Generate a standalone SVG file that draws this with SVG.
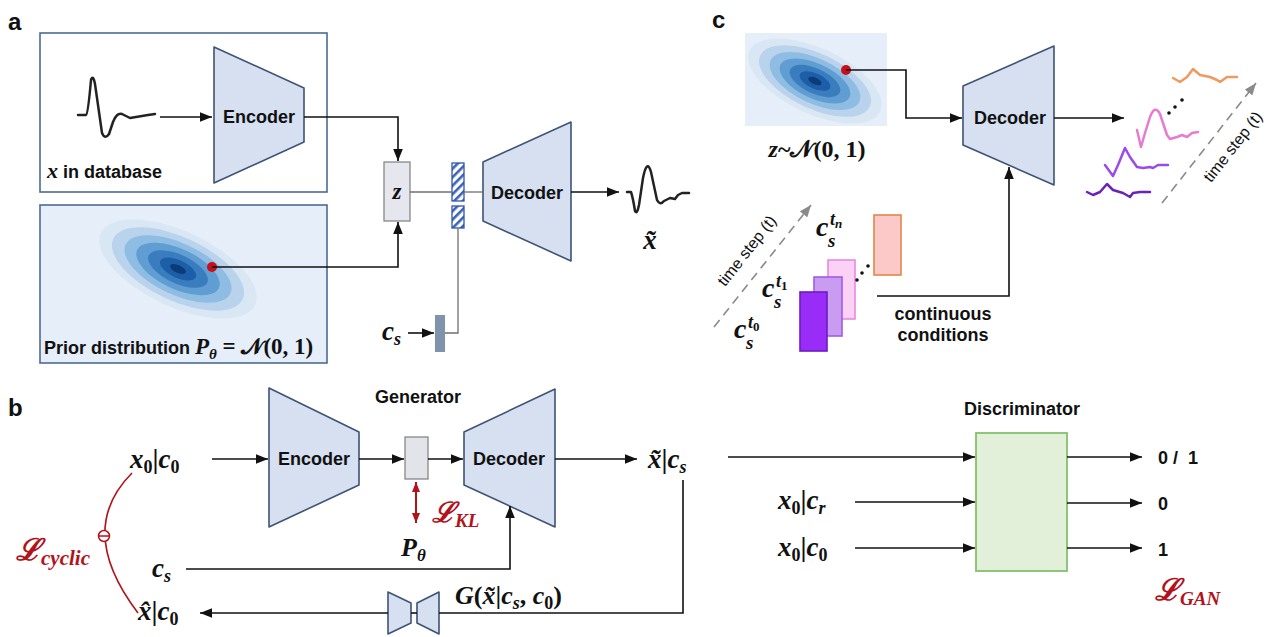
<svg xmlns="http://www.w3.org/2000/svg" width="1270" height="637" viewBox="0 0 1270 637">
<defs>
<style>
.lbl{font-family:"Liberation Sans",Arial,sans-serif;font-weight:bold;fill:#111}
.ts{font-family:"Liberation Sans",Arial,sans-serif;font-size:16px;fill:#111}
.m{font-family:"Liberation Serif","DejaVu Serif",serif;font-weight:bold;font-style:italic;fill:#111}
.up{font-style:normal}
.red{fill:#b3121b}
.net{fill:#d6e0f1;stroke:#3f5375;stroke-width:1.6;stroke-linejoin:round}
.ln{fill:none;stroke:#111;stroke-width:1.6}
.thin{fill:none;stroke:#6f6f6f;stroke-width:1.3}
.wave{fill:none;stroke-width:2.5;stroke-linejoin:round;stroke-linecap:round}
.dash{fill:none;stroke:#8a8a8a;stroke-width:1.6;stroke-dasharray:9 6}
</style>
<marker id="ah" viewBox="0 0 10 8" refX="10" refY="4" markerWidth="12" markerHeight="10" markerUnits="userSpaceOnUse" orient="auto"><path d="M0,0L10,4L0,8z" fill="#111"/></marker>
<marker id="ahg" viewBox="0 0 10 8" refX="10" refY="4" markerWidth="12" markerHeight="10" markerUnits="userSpaceOnUse" orient="auto"><path d="M0,0L10,4L0,8z" fill="#8a8a8a"/></marker>
<marker id="ahr" viewBox="0 0 10 8" refX="10" refY="4" markerWidth="10" markerHeight="8" markerUnits="userSpaceOnUse" orient="auto-start-reverse"><path d="M0,0L10,4L0,8z" fill="#b3121b"/></marker>
<pattern id="hatch" width="6" height="6" patternUnits="userSpaceOnUse" patternTransform="rotate(45)"><rect width="6" height="6" fill="#fff"/><rect width="2.6" height="6" fill="#3d63b8"/></pattern>
<g id="gs">
<ellipse rx="100" ry="41" fill="#d9e7f5"/>
<ellipse rx="84" ry="34.5" fill="#b9d3ec"/>
<ellipse rx="68" ry="28" fill="#8ebce2"/>
<ellipse rx="53" ry="21.8" fill="#5f9dd2"/>
<ellipse rx="38" ry="15.6" fill="#3a7dbf"/>
<ellipse rx="23" ry="9.5" fill="#1c5ea8"/>
<ellipse rx="10" ry="4.2" fill="#0c3c78"/>
</g>
</defs>

<!-- ========== Panel a ========== -->
<g id="panel-a">
<text class="lbl" x="8" y="30" font-size="24">a</text>
<g id="a-data-box">
<rect x="40" y="33" width="287" height="159" fill="#fff" stroke="#4c6b93" stroke-width="1.6"/>
<path class="wave" stroke="#222" d="M78,115 L86,115 Q88,114 91,80 Q93,74 95,84 L102,133 Q105,140 109,134 L113,122 Q117,112 122,114 L130,118 L136,117 L142,116 L148,115 L155,114"/>
<text x="47" y="178"><tspan class="m" font-size="22">x</tspan><tspan class="lbl" font-size="18"> in database</tspan></text>
</g>
<g id="a-encoder">
<path class="net" d="M214,47 L304,88 L304,142 L214,183 Z"/>
<text class="lbl" x="259" y="123" font-size="18" text-anchor="middle">Encoder</text>
</g>
<g id="a-prior-box">
<rect x="40" y="205" width="287" height="158" fill="#e5eef9" stroke="#4c6b93" stroke-width="1.6"/>
<use href="#gs" transform="translate(178,269) rotate(25) scale(0.85,0.92)"/>
<circle cx="212" cy="267" r="5" fill="#c8101a"/>
<text x="44" y="354"><tspan class="lbl" font-size="18">Prior distribution </tspan><tspan class="m" font-size="23">P</tspan><tspan class="m" font-size="15" dy="5">θ</tspan><tspan class="m up" font-size="23" dy="-5"> = 𝒩(0, 1)</tspan></text>
</g>
<g id="a-z">
<rect x="384" y="162" width="26" height="59" fill="#e6e7ee" stroke="#888" stroke-width="1.3"/>
<text class="m" x="397" y="199" font-size="23" text-anchor="middle">z</text>
</g>
<g id="a-hatch">
<rect x="452" y="163" width="12" height="38" fill="url(#hatch)" stroke="#2f55aa" stroke-width="1.3"/>
<rect x="452" y="206" width="12" height="22" fill="url(#hatch)" stroke="#2f55aa" stroke-width="1.3"/>
</g>
<g id="a-cs">
<rect x="435" y="315" width="10" height="37" fill="#7f93ad"/>
<text class="m" x="382" y="340" font-size="27">c<tspan font-size="18" dy="5">s</tspan></text>
</g>
<g id="a-decoder">
<path class="net" d="M483,162 L571,122 L571,261 L483,221 Z"/>
<text class="lbl" x="527" y="199" font-size="18" text-anchor="middle">Decoder</text>
</g>
<g id="a-output">
<path class="wave" stroke="#222" d="M627,192 L631,192 Q633,198 635,211 Q637,215 639,205 L643,178 Q647,158 651,172 L657,200 Q660,206 664,201 L670,198 L675,199 L678,195 L682,193 L689,193"/>
<text class="m" x="650" y="249" font-size="27" text-anchor="middle">x̃</text>
</g>
<g id="a-connectors">
<line class="ln" x1="160" y1="117" x2="212" y2="117" marker-end="url(#ah)"/>
<polyline class="ln" points="304,117 398,117 398,161" marker-end="url(#ah)"/>
<polyline class="ln" points="212,267 398,267 398,222" marker-end="url(#ah)"/>
<line class="thin" x1="410" y1="192" x2="452" y2="192"/>
<line class="thin" x1="464" y1="192" x2="483" y2="192"/>
<polyline class="thin" points="458,228 458,333 445,333"/>
<line class="ln" x1="408" y1="333" x2="434" y2="333" marker-end="url(#ah)"/>
<line class="ln" x1="571" y1="192" x2="619" y2="192" marker-end="url(#ah)"/>
</g>
</g>

<!-- ========== Panel c ========== -->
<g id="panel-c">
<text class="lbl" x="712" y="28" font-size="24">c</text>
<g id="c-latent">
<rect x="745" y="33" width="142" height="93" fill="#e5eef9"/>
<use href="#gs" transform="translate(815,81) rotate(25) scale(0.72,0.8)"/>
<circle cx="846" cy="70" r="5" fill="#c8101a"/>
<text class="m" x="817" y="157" font-size="24" text-anchor="middle">z<tspan class="up">~𝒩(0, 1)</tspan></text>
</g>
<g id="c-decoder">
<path class="net" d="M963,86 L1054,46 L1054,185 L963,145 Z"/>
<text class="lbl" x="1010" y="124" font-size="18" text-anchor="middle">Decoder</text>
</g>
<g id="c-conditions">
<rect x="874" y="215" width="27" height="60" fill="#fcc9c9" stroke="#e2874c" stroke-width="1.6"/>
<rect x="828" y="260" width="27" height="59" fill="#fbd2f5" stroke="#e48be0" stroke-width="1.6"/>
<rect x="814" y="277" width="28" height="59" fill="#c99cf2" stroke="#a25ce0" stroke-width="1.6"/>
<rect x="800" y="292" width="27" height="59" fill="#9a2cf8" stroke="#6c1cc4" stroke-width="1.6"/>
<circle cx="857" cy="280" r="1.8" fill="#111"/>
<circle cx="862" cy="273" r="1.8" fill="#111"/>
<circle cx="868" cy="266" r="1.8" fill="#111"/>
<text class="m" x="816" y="236" font-size="28">c</text><text class="m" x="828" y="247" font-size="19">s</text><text class="m" x="830" y="225" font-size="18">t<tspan font-size="13" dy="3">n</tspan></text>
<text class="m" x="762" y="297" font-size="28">c</text><text class="m" x="774" y="308" font-size="19">s</text><text class="m" x="776" y="287" font-size="18">t<tspan class="up" font-size="13" dy="3">1</tspan></text>
<text class="m" x="734" y="338" font-size="28">c</text><text class="m" x="746" y="349" font-size="19">s</text><text class="m" x="748" y="328" font-size="18">t<tspan class="up" font-size="13" dy="3">0</tspan></text>
<text class="lbl" x="943" y="320" font-size="18" text-anchor="middle">continuous</text>
<text class="lbl" x="943" y="341" font-size="18" text-anchor="middle">conditions</text>
<line class="dash" x1="714" y1="327" x2="811" y2="205" marker-end="url(#ahg)"/>
<text class="ts" transform="translate(751,254) rotate(-52)" text-anchor="middle">time step (t)</text>
</g>
<g id="c-outputs">
<path class="wave" stroke="#ee9a60" d="M1173,78 L1180,82 L1187,77 L1193,69 L1200,75 L1210,77 L1217,80 L1220,82 L1227,77 L1237,77"/>
<path class="wave" stroke="#e77bd2" d="M1137,130 L1141,147 L1145,133 L1150,117 Q1155,104 1160,114 L1167,135 L1170,139 L1177,137 L1182,135 L1187,137 L1192,133 L1198,132"/>
<path class="wave" stroke="#9a4ae8" d="M1105,165 L1113,176 L1118,165 L1125,148 L1130,157 L1137,167 L1143,168 L1150,167 L1153,168 L1158,165 L1168,165"/>
<path class="wave" stroke="#6a22b8" d="M1087,192 L1093,195 L1100,192 L1107,184 L1113,190 L1123,193 L1130,197 L1133,193 L1140,192 L1150,192"/>
<circle cx="1169" cy="113" r="1.8" fill="#111"/>
<circle cx="1175" cy="107" r="1.8" fill="#111"/>
<circle cx="1182" cy="100" r="1.8" fill="#111"/>
<line class="dash" x1="1162" y1="203" x2="1256" y2="83" marker-end="url(#ahg)"/>
<text class="ts" transform="translate(1237,150) rotate(-52)" text-anchor="middle">time step (t)</text>
</g>
<g id="c-connectors">
<polyline class="ln" points="846,70 906,70 906,118 962,118" marker-end="url(#ah)"/>
<polyline class="ln" points="877,296 1009,296 1009,167" marker-end="url(#ah)"/>
<line class="ln" x1="1054" y1="118" x2="1124" y2="118" marker-end="url(#ah)"/>
</g>
</g>

<!-- ========== Panel b ========== -->
<g id="panel-b">
<text class="lbl" x="8" y="416" font-size="24">b</text>
<text class="lbl" x="418" y="403" font-size="18" text-anchor="middle">Generator</text>
<g id="b-x0c0"><text class="m" x="130" y="468" font-size="27">x<tspan class="up" font-size="18" dy="5">0</tspan><tspan class="up" dy="-5">|</tspan>c<tspan class="up" font-size="18" dy="5">0</tspan></text></g>
<g id="b-encoder">
<path class="net" d="M269,388 L359,432 L359,485 L269,527 Z"/>
<text class="lbl" x="314" y="465" font-size="18" text-anchor="middle">Encoder</text>
</g>
<g id="b-latent"><rect x="405" y="437" width="23" height="42" fill="#e3e4ea" stroke="#888" stroke-width="1.3"/></g>
<g id="b-decoder">
<path class="net" d="M464,432 L555,389 L555,527 L464,485 Z"/>
<text class="lbl" x="509" y="465" font-size="18" text-anchor="middle">Decoder</text>
</g>
<g id="b-kl">
<line x1="416" y1="482" x2="416" y2="523" stroke="#b3121b" stroke-width="2" marker-start="url(#ahr)" marker-end="url(#ahr)"/>
<text class="m red" x="432" y="522" font-size="28">ℒ<tspan font-size="19" dy="5">KL</tspan></text>
</g>
<text class="m" x="401" y="556" font-size="26">P<tspan font-size="17" dy="5">θ</tspan></text>
<text class="m" x="152" y="577" font-size="27">c<tspan font-size="18" dy="5">s</tspan></text>
<g id="b-xtilde"><text class="m" x="648" y="468" font-size="27">x̃<tspan class="up">|</tspan>c<tspan font-size="18" dy="5">s</tspan></text></g>
<g id="b-xhat"><text class="m" x="138" y="620" font-size="27">x̂<tspan class="up">|</tspan>c<tspan class="up" font-size="18" dy="5">0</tspan></text></g>
<g id="b-G">
<path class="net" d="M388,592 L411,603 L411,623 L388,634 Z"/>
<path class="net" d="M417,603 L439,592 L439,634 L417,623 Z"/>
<text class="m" x="455" y="604" font-size="26">G<tspan class="up">(</tspan>x̃<tspan class="up">|</tspan>c<tspan font-size="18" dy="5">s</tspan><tspan class="up" dy="-5">, </tspan>c<tspan class="up" font-size="18" dy="5">0</tspan><tspan class="up" dy="-5">)</tspan></text>
</g>
<g id="b-cyclic">
<path d="M132,473 Q75,530 138,613" fill="none" stroke="#b3121b" stroke-width="1.6"/>
<circle cx="104" cy="536" r="5.5" fill="#fff" stroke="#b3121b" stroke-width="1.5"/>
<line x1="99" y1="536" x2="109" y2="536" stroke="#b3121b" stroke-width="1.5"/>
<text class="m red" x="16" y="560" font-size="30">ℒ<tspan font-size="21" dy="5">cyclic</tspan></text>
</g>
<g id="b-discriminator">
<text class="lbl" x="1022" y="415" font-size="18" text-anchor="middle">Discriminator</text>
<rect x="976" y="433" width="91" height="138" fill="#e2f0d9" stroke="#84c06b" stroke-width="1.8"/>
</g>
<text class="m" x="778" y="509" font-size="27">x<tspan class="up" font-size="18" dy="5">0</tspan><tspan class="up" dy="-5">|</tspan>c<tspan font-size="18" dy="5">r</tspan></text>
<text class="m" x="778" y="556" font-size="27">x<tspan class="up" font-size="18" dy="5">0</tspan><tspan class="up" dy="-5">|</tspan>c<tspan class="up" font-size="18" dy="5">0</tspan></text>
<text class="lbl" x="1158" y="464" font-size="18" xml:space="preserve">0 /  1</text>
<text class="lbl" x="1158" y="510" font-size="18">0</text>
<text class="lbl" x="1158" y="556" font-size="18">1</text>
<text class="m red" x="1155" y="600" font-size="30">ℒ<tspan font-size="19" dy="5">GAN</tspan></text>
<g id="b-connectors">
<line class="ln" x1="212" y1="459" x2="268" y2="459" marker-end="url(#ah)"/>
<line class="ln" x1="359" y1="459" x2="404" y2="459" marker-end="url(#ah)"/>
<line class="ln" x1="428" y1="459" x2="463" y2="459" marker-end="url(#ah)"/>
<line class="ln" x1="555" y1="459" x2="637" y2="459" marker-end="url(#ah)"/>
<polyline class="ln" points="186,569 510,569 510,506" marker-end="url(#ah)"/>
<line class="ln" x1="728" y1="457" x2="975" y2="457" marker-end="url(#ah)"/>
<line class="ln" x1="855" y1="502" x2="975" y2="502" marker-end="url(#ah)"/>
<line class="ln" x1="855" y1="548" x2="975" y2="548" marker-end="url(#ah)"/>
<line class="ln" x1="1067" y1="457" x2="1142" y2="457" marker-end="url(#ah)"/>
<line class="ln" x1="1067" y1="503" x2="1142" y2="503" marker-end="url(#ah)"/>
<line class="ln" x1="1067" y1="548" x2="1142" y2="548" marker-end="url(#ah)"/>
<polyline class="ln" points="683,480 683,613 439,613"/>
<line class="ln" x1="411" y1="613" x2="417" y2="613"/>
<line class="ln" x1="388" y1="613" x2="200" y2="613" marker-end="url(#ah)"/>
</g>
</g>
</svg>
